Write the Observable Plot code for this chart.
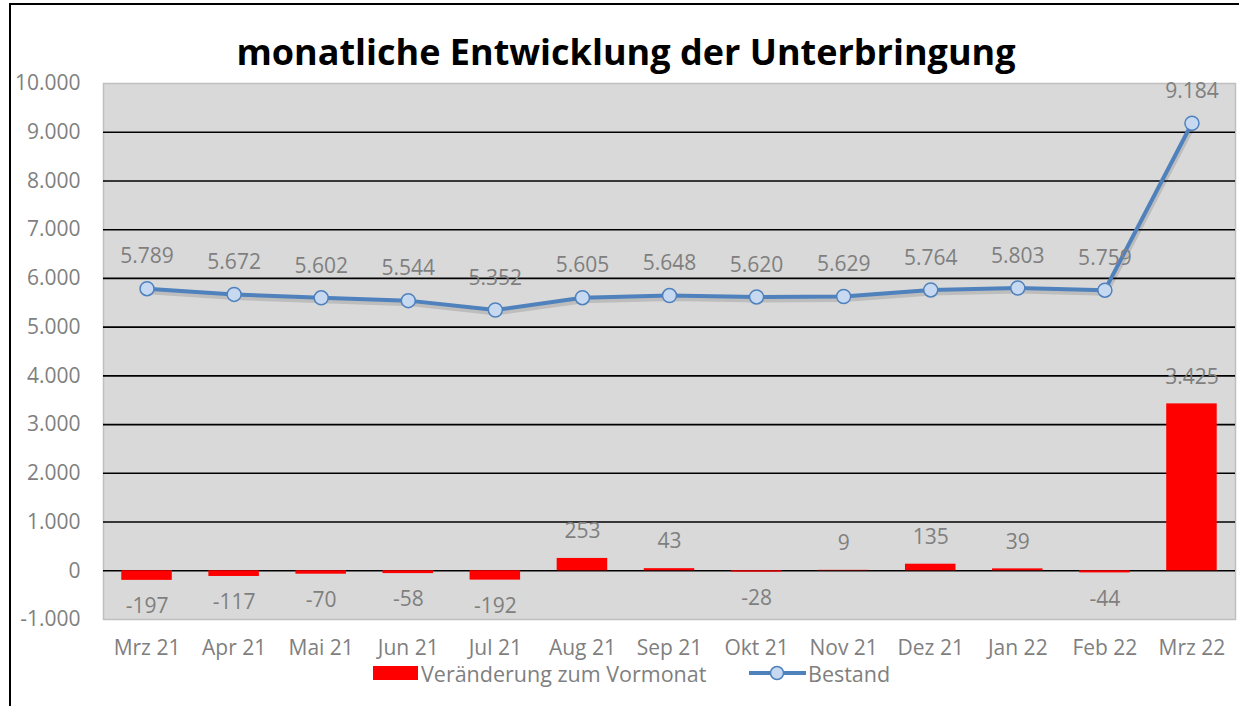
<!DOCTYPE html>
<html><head><meta charset="utf-8">
<script src="https://cdn.jsdelivr.net/npm/d3@7"></script>
<script src="https://cdn.jsdelivr.net/npm/@observablehq/plot@0.6"></script>
<style>
body{margin:0;background:#fff;font-family:"Open Sans",sans-serif;}
#wrap{position:relative;width:1239px;height:706px;overflow:hidden;}
#frame{position:absolute;left:9px;top:3px;width:1300px;height:800px;border-left:2px solid #000;border-top:2px solid #000;pointer-events:none;}
#title{position:absolute;top:27px;left:0;width:1252px;text-align:center;font-weight:bold;font-size:36px;line-height:50px;color:#000;}
#chart{position:absolute;top:55px;left:0;}
#legend{position:absolute;top:664px;left:0;width:1239px;height:20px;font-size:21.5px;color:#7f7f7f;}
.lg{position:absolute;top:0;white-space:nowrap;line-height:20px;}
</style></head>
<body>
<div id="wrap">
  <div id="frame"></div>
  <div id="title">monatliche Entwicklung der Unterbringung</div>
  <div id="chart"></div>
  <div id="legend">
    <div class="lg" style="left:373px;top:2px;width:45px;height:14px;background:#ff0000;"></div>
    <div class="lg" style="left:421px;">Veränderung zum Vormonat</div>
    <svg class="lg" style="left:748px;top:0;" width="60" height="20"><line x1="1" y1="9" x2="58" y2="9" stroke="#4f81bd" stroke-width="4"/><circle cx="29" cy="9" r="6.5" fill="#c6d9f1" stroke="#4f81bd" stroke-width="1.5"/></svg>
    <div class="lg" style="left:808px;">Bestand</div>
  </div>
</div>
<script>
const months = ["Mrz 21","Apr 21","Mai 21","Jun 21","Jul 21","Aug 21","Sep 21","Okt 21","Nov 21","Dez 21","Jan 22","Feb 22","Mrz 22"];
const bestand = [5789,5672,5602,5544,5352,5605,5648,5620,5629,5764,5803,5759,9184];
const veraenderung = [-197,-117,-70,-58,-192,253,43,-28,9,135,39,-44,3425];
const yTicks = [-1000,0,1000,2000,3000,4000,5000,6000,7000,8000,9000,10000];

const de = d3.formatLocale({decimal:",",thousands:".",grouping:[3],currency:["","€"],minus:"-"});
const fmt = de.format(",");

const rows = months.map((m,i)=>({month:m, bestand:bestand[i], change:veraenderung[i]}));
const neg = rows.filter(d=>d.change<0), pos = rows.filter(d=>d.change>=0);
const gray = "#7f7f7f";
const fs = 21;

const plot = Plot.plot({
  width:1239, height:625,
  marginTop:28, marginBottom:61, marginLeft:103, marginRight:4,
  style:{fontFamily:"'Open Sans', sans-serif", fontSize:fs+"px", color:gray, background:"transparent"},
  x:{type:"band", domain:months, paddingInner:0.42, paddingOuter:0.21, round:false, label:null},
  y:{domain:[-1000,10000], label:null},
  marks:[
    Plot.frame({fill:"#d9d9d9", stroke:"#bfbfbf", strokeWidth:1.5}),
    Plot.ruleY(yTicks.filter(v=>v>-1000 && v<10000), {stroke:"#000", strokeWidth:1.6}),
    Plot.barY(rows, {x:"month", y:"change", fill:"#ff0000", ariaLabel:"bars"}),
    Plot.lineY(rows, {x:"month", y:"bestand", stroke:"#000", strokeOpacity:0.13, strokeWidth:5, dx:1, dy:3}),
    Plot.lineY(rows, {x:"month", y:"bestand", stroke:"#4f81bd", strokeWidth:4}),
    Plot.dot(rows, {x:"month", y:"bestand", r:7, fill:"#c6d9f1", stroke:"#4f81bd", strokeWidth:1.5, ariaLabel:"bdots"}),
    Plot.text(rows, {x:"month", y:"bestand", text:d=>fmt(d.bestand), dy:-32, fill:gray, fontSize:fs}),
    Plot.text(neg, {x:"month", y:"change", text:d=>fmt(d.change), dy:26, fill:gray, fontSize:fs}),
    Plot.text(pos, {x:"month", y:"change", text:d=>fmt(d.change), dy:-27, fill:gray, fontSize:fs}),
    Plot.axisY(yTicks, {tickSize:0, tickPadding:23, tickFormat:fmt, fill:gray, fontSize:fs}),
    Plot.axisX({tickSize:0, tickPadding:21, fill:gray, fontSize:fs})
  ]
});
document.getElementById("chart").appendChild(plot);
const shadows = {bars:"drop-shadow(2px 4px 3px rgba(0,0,0,0.35))", bdots:"drop-shadow(1px 3px 2px rgba(0,0,0,0.3))"};
for (const [k,v] of Object.entries(shadows)) {
  const g = plot.querySelector(`[aria-label="${k}"]`);
  if (g) g.style.filter = v;
}
</script>
</body></html>
